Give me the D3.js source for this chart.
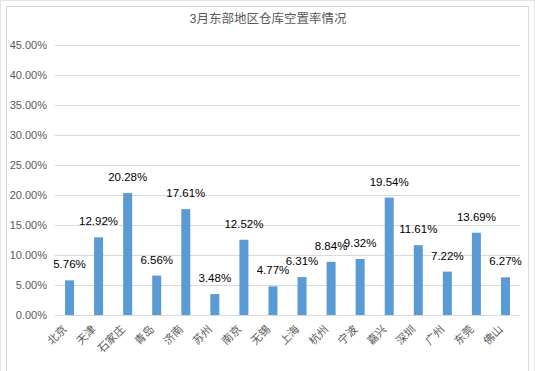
<!DOCTYPE html>
<html lang="zh">
<head>
<meta charset="UTF-8">
<title>3月东部地区仓库空置率情况</title>
<script src="https://cdn.jsdelivr.net/npm/d3@7"></script>
<style>
  body { margin: 0; background: #fff; }
  svg { display: block; font-family: "Liberation Sans", Arial, "Noto Sans CJK SC", sans-serif; }
</style>
</head>
<body>
<script>
'use strict';
// data
var cities = ['北京', '天津', '石家庄', '青岛', '济南', '苏州', '南京', '无锡',
              '上海', '杭州', '宁波', '嘉兴', '深圳', '广州', '东莞', '佛山'];
var rates = [5.76, 12.92, 20.28, 6.56, 17.61, 3.48, 12.52, 4.77,
             6.31, 8.84, 9.32, 19.54, 11.61, 7.22, 13.69, 6.27];
var yTicks = [0, 5, 10, 15, 20, 25, 30, 35, 40, 45];
var title = '3月东部地区仓库空置率情况';

var w = 535, h = 371;
var padL = 55, padR = 520, padT = 44.5, padB = 315;

var svg = d3.select('body').append('svg')
    .attr('width', w)
    .attr('height', h);

// chart frame
svg.append('rect')
    .attr('x', 0.5).attr('y', 0.5)
    .attr('width', w - 1).attr('height', h + 5)
    .attr('fill', 'none').attr('stroke', '#e4e4e4');
svg.append('rect')
    .attr('x', 6.5).attr('y', 6.5)
    .attr('width', 522).attr('height', h)
    .attr('fill', '#fff').attr('stroke', '#d9d9d9');

var x = d3.scaleBand()
    .domain(cities)
    .range([padL, padR])
    .paddingInner(0.69)
    .paddingOuter(0.345);

var y = d3.scaleLinear()
    .domain([0, 45])
    .range([padB, padT]);

// gridlines
svg.append('g')
    .selectAll('line')
    .data(yTicks)
    .enter()
    .append('line')
    .attr('x1', padL).attr('x2', padR)
    .attr('y1', d => Math.round(y(d)) + 0.5)
    .attr('y2', d => Math.round(y(d)) + 0.5)
    .attr('stroke', '#d9d9d9');

// y labels
svg.append('g')
    .selectAll('text')
    .data(yTicks)
    .enter()
    .append('text')
    .attr('x', 47)
    .attr('y', d => y(d) + 4)
    .attr('text-anchor', 'end')
    .attr('font-size', '11px')
    .attr('fill', '#595959')
    .text(d => d.toFixed(2) + '%');

// bars
svg.append('g')
    .selectAll('rect')
    .data(rates)
    .enter()
    .append('rect')
    .attr('x', (d, i) => x(cities[i]))
    .attr('width', x.bandwidth())
    .attr('y', d => y(d))
    .attr('height', d => padB - y(d))
    .attr('fill', '#5b9bd5');

// value labels
svg.append('g')
    .selectAll('text')
    .data(rates)
    .enter()
    .append('text')
    .attr('x', (d, i) => x(cities[i]) + x.bandwidth() / 2)
    .attr('y', d => y(d) - 12)
    .attr('text-anchor', 'middle')
    .attr('font-size', '11.5px')
    .attr('fill', '#000')
    .text(d => d.toFixed(2) + '%');

// x labels, rotated
svg.append('g')
    .selectAll('text')
    .data(cities)
    .enter()
    .append('text')
    .attr('transform', d => 'translate(' + (x(d) + x.bandwidth() / 2 - 2) + ',' + (padB + 15) + ') rotate(-45)')
    .attr('text-anchor', 'end')
    .attr('font-size', '11px')
    .attr('fill', '#595959')
    .text(d => d);

// title
svg.append('text')
    .attr('x', 268)
    .attr('y', 23)
    .attr('text-anchor', 'middle')
    .attr('font-size', '12.5px')
    .attr('fill', '#595959')
    .text(title);
</script>
</body>
</html>
